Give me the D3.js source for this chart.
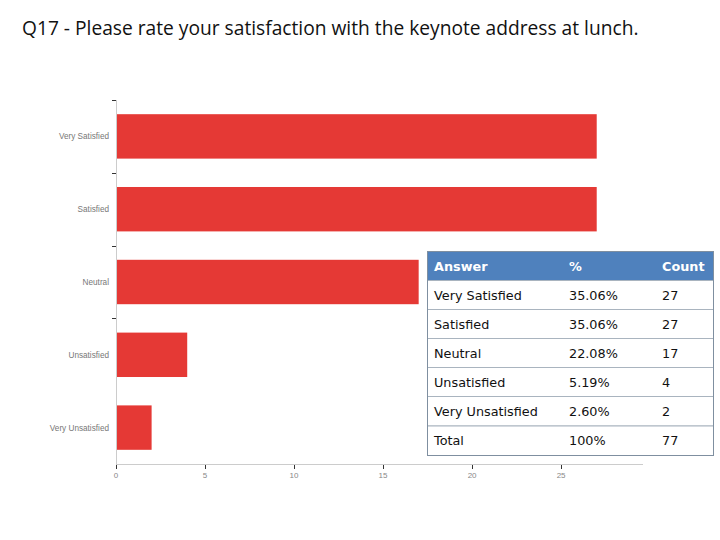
<!DOCTYPE html>
<html><head><meta charset="utf-8">
<script src="https://cdn.jsdelivr.net/npm/d3@7/dist/d3.min.js"></script>
<style>body{margin:0;background:#fff}svg{display:block}</style>
</head><body>
<script>
const title = "Q17 - Please rate your satisfaction with the keynote address at lunch.";
const categories = ["Very Satisfied","Satisfied","Neutral","Unsatisfied","Very Unsatisfied"];
const counts = [27,27,17,4,2];
const percents = ["35.06%","35.06%","22.08%","5.19%","2.60%"];
const xTicks = [0,5,10,15,20,25];
const tableHeader = ["Answer","%","Count"];
const totalRow = ["Total","100%","77"];

const W=720,H=540;
const svg=d3.select("body").append("svg").attr("width",W).attr("height",H);

svg.append("text").attr("x",22).attr("y",35)
  .attr("font-family","'Open Sans',sans-serif").attr("font-size",19.2)
  .attr("fill","#111").text(title);

const x=d3.scaleLinear().domain([0,29.6]).range([116,643]);
const y=d3.scaleBand().domain(categories).range([100,464]).paddingInner(0.39).paddingOuter(0.195);

svg.append("line").attr("x1",116.5).attr("x2",116.5).attr("y1",100).attr("y2",464).attr("stroke","#ccc");
svg.append("line").attr("x1",116).attr("x2",643).attr("y1",464.5).attr("y2",464.5).attr("stroke","#ccc");

const bounds=categories.slice(0,4).map(c=>y(c)-y.step()*y.paddingInner()/2);
svg.selectAll(".yt").data(bounds).enter().append("line")
  .attr("x1",112).attr("x2",116).attr("y1",d=>Math.round(d)+0.5).attr("y2",d=>Math.round(d)+0.5)
  .attr("stroke","#333");

svg.selectAll(".bar").data(categories).enter().append("rect")
  .attr("x",x(0)+1).attr("y",d=>y(d)).attr("height",y.bandwidth())
  .attr("width",(d,i)=>x(counts[i])-x(0)-1).attr("fill","#e53935");

svg.selectAll(".cl").data(categories).enter().append("text")
  .attr("x",109).attr("y",d=>y(d)+y.bandwidth()/2+3)
  .attr("text-anchor","end").attr("font-family","'Liberation Sans',Arial,sans-serif")
  .attr("font-size",8.2).attr("fill","#777").text(d=>d);

svg.selectAll(".xt").data(xTicks).enter().append("line")
  .attr("x1",d=>Math.round(x(d))+0.5).attr("x2",d=>Math.round(x(d))+0.5)
  .attr("y1",465).attr("y2",469).attr("stroke","#333");
svg.selectAll(".xl").data(xTicks).enter().append("text")
  .attr("x",d=>x(d)).attr("y",478).attr("text-anchor","middle")
  .attr("font-family","'Liberation Sans',Arial,sans-serif").attr("font-size",8)
  .attr("fill","#888").text(d=>d);

const rows=[tableHeader].concat(categories.map((c,i)=>[c,percents[i],String(counts[i])])).concat([totalRow]);
const tx=427,tw=286,ty=251,rh=[29,29,29,29,29,29.5,29.5];
const colX=[434,569,662];
let yy=ty;
const tg=svg.append("g");
rows.forEach((r,i)=>{
  const h=rh[i];
  tg.append("rect").attr("x",tx+0.5).attr("y",yy+0.5).attr("width",tw).attr("height",h)
    .attr("fill",i===0?"#4f81bd":"#fff").attr("stroke",i===0?"#4f81bd":"#a9b4bf");
  tg.selectAll(null).data(r).enter().append("text")
    .attr("x",(d,j)=>colX[j]).attr("y",yy+h/2+5)
    .attr("font-family","'DejaVu Sans',Verdana,sans-serif")
    .attr("font-size",12.8).attr("font-weight",i===0?"bold":"normal")
    .attr("fill",i===0?"#fff":"#111").text(d=>d);
  yy+=h;
});
tg.append("rect").attr("x",tx+0.5).attr("y",ty+0.5).attr("width",tw).attr("height",yy-ty)
  .attr("fill","none").attr("stroke","#7f8fa0");
</script>
</body></html>
